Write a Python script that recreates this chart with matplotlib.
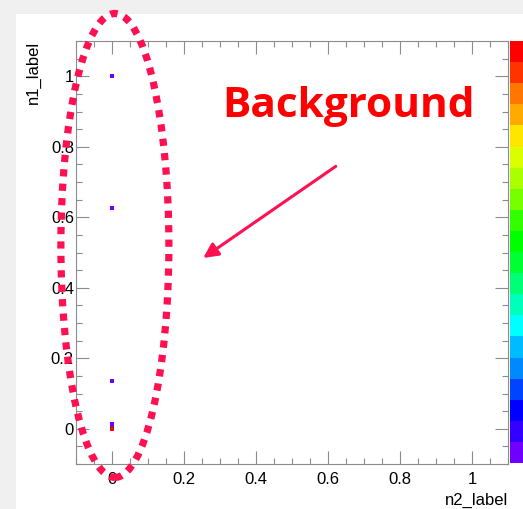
import numpy as np
import matplotlib.pyplot as plt
from matplotlib.colors import ListedColormap
from matplotlib.patches import Ellipse, Rectangle
from matplotlib.ticker import MultipleLocator, FuncFormatter

# filled bins of the 2D histogram: n2 position, n1 position, entries
n2_vals = [0.0, 0.0, 0.0, 0.0, 0.0]
n1_vals = [1.0, 0.625, 0.135, 0.012, 0.0]
entries = [1, 1, 1, 1, 4]

x_label = "n2_label"
y_label = "n1_label"
note = "Background"

# ROOT-like rainbow palette, top band first
bands = [
    "#ff0000", "#ff3300", "#ff7700", "#ffaa00", "#ffe600",
    "#d9ff00", "#aaff00", "#77ff00", "#33ff00", "#00ff00",
    "#00ff33", "#00ff77", "#00ffbb", "#00ffff", "#00bbff",
    "#0088ff", "#0044ff", "#0000ff", "#3300ff", "#6f00ff",
]
cmap = ListedColormap(bands[::-1])

W, H = 523, 509
plt.rcParams["font.family"] = ["Liberation Sans", "DejaVu Sans"]

fig = plt.figure(figsize=(W / 100, H / 100), dpi=100, facecolor="#f0f0f0")
fig.patches.append(
    Rectangle((16 / W, 0), 1, 1 - 14 / H, transform=fig.transFigure,
              facecolor="white", edgecolor="none", zorder=-10)
)

ax = fig.add_axes([76 / W, (H - 464) / H, 432 / W, 423 / H])
ax.set_xlim(-0.1, 1.1)
ax.set_ylim(-0.1, 1.1)

sc = ax.scatter(n2_vals, n1_vals, c=entries, cmap=cmap, vmin=1, vmax=max(entries),
                marker="s", s=8.5, linewidths=0, zorder=3)

fmt = FuncFormatter(lambda v, p: f"{v:g}")
for axis in (ax.xaxis, ax.yaxis):
    axis.set_major_locator(MultipleLocator(0.2))
    axis.set_minor_locator(MultipleLocator(0.05))
    axis.set_major_formatter(fmt)

gray = "#8c8c8c"
ax.tick_params(which="both", direction="in", top=True, right=True,
               color=gray, labelsize=12, width=0.8)
ax.tick_params(which="major", length=9.5)
ax.tick_params(which="minor", length=4.5)
ax.tick_params(axis="x", pad=6)
ax.tick_params(axis="y", pad=1.5)
for sp in ax.spines.values():
    sp.set_color(gray)
    sp.set_linewidth(0.8)

ax.set_xlabel(x_label, fontsize=12, loc="right")
ax.xaxis.set_label_coords(1.0, (464 - 500) / 423)
ax.xaxis.label.set_va("center")
ax.set_ylabel(y_label, fontsize=12, loc="top")
ax.yaxis.set_label_coords((33 - 76) / 432, 1.0)
ax.yaxis.label.set_va("center")

# palette on the right edge, cut off by the screenshot
cax = fig.add_axes([510 / W, (H - 463) / H, 20 / W, 422 / H])
cb = fig.colorbar(sc, cax=cax)
cb.set_ticks([])
cb.outline.set_visible(False)

# hand-drawn annotation
pink = "#ff1050"
ax.add_patch(Ellipse((0.008, 0.52), 0.30, 1.316, fill=False, edgecolor=pink,
                     lw=5.2, linestyle=(0, (1, 1)), clip_on=False, zorder=5))
ax.annotate("", xy=(0.247, 0.48), xytext=(0.628, 0.749),
            arrowprops=dict(arrowstyle="-|>", color=pink, lw=2.2, mutation_scale=22),
            annotation_clip=False)
ax.text(0.306, 0.885, note, color="red", fontsize=30.5, fontweight="bold",
        family="Open Sans", ha="left", va="baseline")

fig.savefig("out.png", dpi=100, facecolor=fig.get_facecolor())
